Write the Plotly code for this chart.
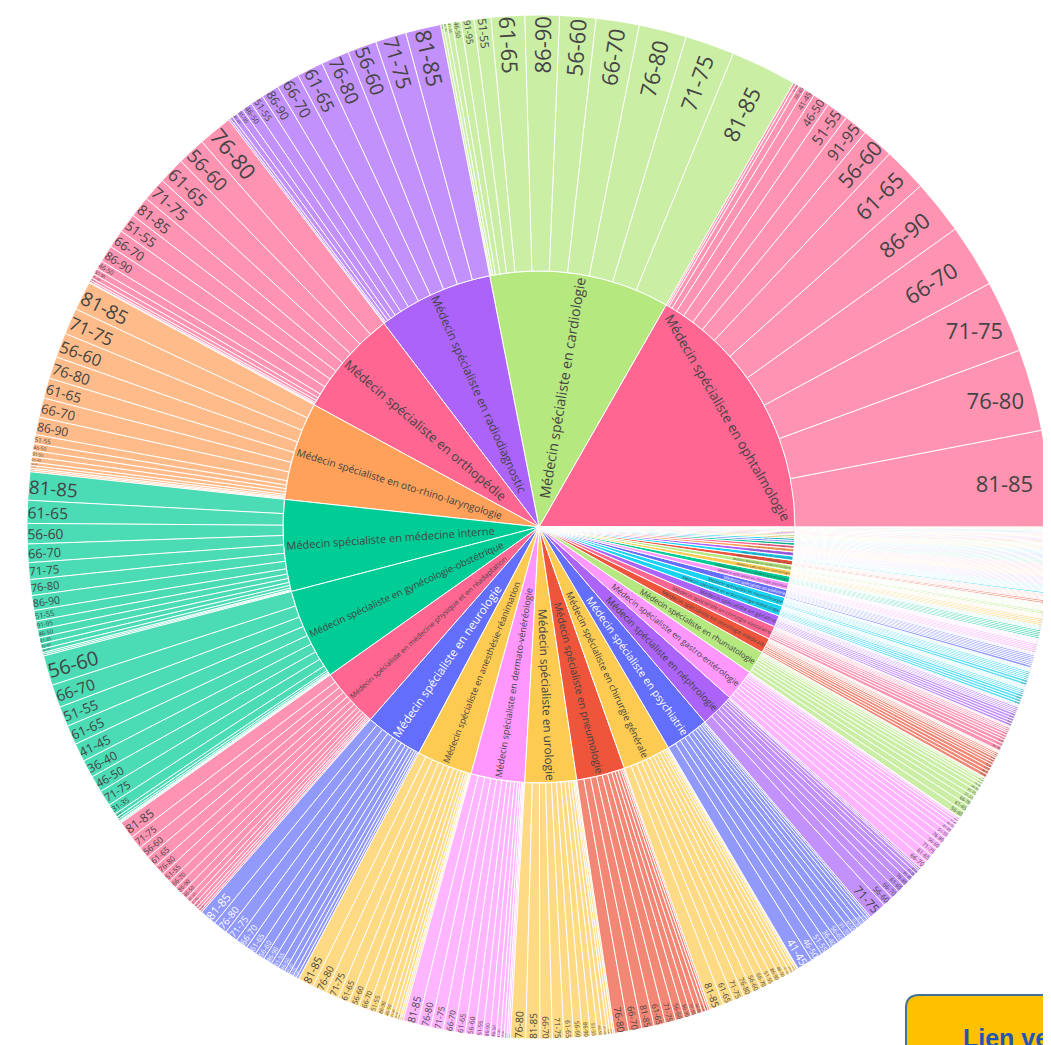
import plotly.graph_objects as go

# ---------------- data ----------------
AGES = ["21-25", "26-30", "31-35", "36-40", "41-45", "46-50", "51-55", "56-60",
        "61-65", "66-70", "71-75", "76-80", "81-85", "86-90", "91-95", "96-100"]

SPECIALTIES = [
    "Médecin spécialiste en ophtalmologie",
    "Médecin spécialiste en cardiologie",
    "Médecin spécialiste en radiodiagnostic",
    "Médecin spécialiste en orthopédie",
    "Médecin spécialiste en oto-rhino-laryngologie",
    "Médecin spécialiste en médecine interne",
    "Médecin spécialiste en gynécologie-obstétrique",
    "Médecin spécialiste en médecine physique et en réadaptation",
    "Médecin spécialiste en neurologie",
    "Médecin spécialiste en anesthésie-réanimation",
    "Médecin spécialiste en dermato-vénéréologie",
    "Médecin spécialiste en urologie",
    "Médecin spécialiste en pneumologie",
    "Médecin spécialiste en chirurgie générale",
    "Médecin spécialiste en psychiatrie",
    "Médecin spécialiste en néphrologie",
    "Médecin spécialiste en gastro-entérologie",
    "Médecin spécialiste en rhumatologie",
    "Médecin spécialiste en oncologie médicale",
    "Médecin spécialiste en chirurgie vasculaire",
    "Médecin spécialiste en gériatrie",
    "Médecin spécialiste en endocrinologie-diabétologie",
    "Médecin spécialiste en neurochirurgie",
    "Médecin spécialiste en pédiatrie",
    "Médecin spécialiste en chirurgie plastique",
    "Médecin spécialiste en radiothérapie-oncologie",
    "Médecin spécialiste en stomatologie",
    "Médecin spécialiste en médecine nucléaire",
    "Médecin spécialiste en hématologie clinique",
    "Médecin spécialiste en chirurgie thoracique",
    "Médecin spécialiste en neuropsychiatrie",
    "Médecin spécialiste en chirurgie maxillo-faciale",
    "Médecin spécialiste en biologie clinique",
    "Médecin spécialiste en chirurgie cardiaque",
    "Médecin spécialiste en médecine d'urgence",
    "Médecin spécialiste en anatomie pathologique",
    "Médecin spécialiste en psychiatrie infanto-juvénile",
    "Médecin spécialiste en soins intensifs",
    "Médecin spécialiste en chirurgie pédiatrique",
    "Médecin spécialiste en médecine du travail",
    "Médecin spécialiste en allergologie",
    "Médecin spécialiste en médecine aiguë",
    "Médecin spécialiste en génétique clinique",
    "Médecin spécialiste en médecine légale",
    "Médecin spécialiste en médecine tropicale",
    "Médecin spécialiste en santé publique",
]

COLORS = [
    "#FF6692", "#B6E880", "#AB63FA", "#FF6692", "#FFA15A", "#00CC96", "#00CC96",
    "#FF6692", "#636EFA", "#FECB52", "#FF97FF", "#FECB52", "#EF553B", "#FECB52",
    "#636EFA", "#AB63FA", "#FF97FF", "#B6E880",
    "#EF553B", "#FF6692", "#AB63FA", "#19D3F3", "#19D3F3", "#636EFA", "#FF97FF",
    "#00CC96", "#FECB52", "#B6E880", "#EF553B", "#19D3F3", "#AB63FA", "#FFA15A",
    "#FF6692", "#00CC96", "#636EFA", "#19D3F3", "#FECB52", "#B6E880", "#EF553B",
    "#AB63FA", "#FFA15A", "#FF97FF", "#00CC96", "#636EFA", "#FECB52", "#B6E880",
]

# counts per age group (same order as AGES)
COUNTS = [
    [0, 0, 3, 8, 12, 19, 25, 36, 50, 72, 82, 93, 109, 62, 27, 4],
    [0, 0, 0, 3, 6, 10, 19, 41, 38, 49, 56, 54, 75, 39, 15, 4],
    [0, 0, 0, 3, 6, 12, 15, 33, 30, 26, 35, 32, 40, 20, 8, 2],
    [0, 0, 1, 3, 5, 10, 22, 32, 30, 21, 27, 39, 24, 19, 7, 2],
    [0, 2, 3, 4, 6, 8, 10, 28, 23, 22, 30, 25, 33, 20, 7, 2],
    [0, 2, 2, 6, 7, 9, 12, 23, 26, 21, 19, 18, 32, 17, 10, 4],
    [1, 3, 12, 20, 21, 19, 23, 34, 22, 26, 18, 4, 2, 1, 1, 0],
    [0, 2, 3, 4, 6, 8, 11, 14, 13, 10, 15, 12, 20, 9, 5, 3],
    [0, 0, 3, 4, 6, 8, 9, 11, 12, 14, 15, 16, 19, 10, 5, 0],
    [0, 2, 2, 4, 5, 7, 10, 12, 13, 11, 15, 16, 18, 8, 3, 0],
    [0, 2, 2, 4, 5, 7, 9, 11, 12, 13, 14, 15, 17, 8, 3, 0],
    [0, 0, 2, 3, 5, 6, 8, 10, 11, 14, 13, 17, 16, 9, 3, 0],
    [0, 0, 0, 2, 4, 6, 7, 10, 13, 15, 12, 16, 14, 8, 3, 0],
    [0, 1, 2, 4, 5, 7, 8, 10, 13, 9, 12, 11, 16, 8, 3, 0],
    [2, 6, 9, 11, 18, 13, 12, 10, 7, 5, 4, 3, 0, 0, 0, 0],
    [0, 0, 0, 0, 2, 4, 5, 12, 9, 10, 20, 8, 6, 2, 0, 0],
    [0, 0, 1, 2, 4, 5, 7, 8, 9, 10, 9, 8, 6, 3, 0, 0],
    [0, 0, 0, 2, 3, 5, 6, 8, 8, 7, 6, 4, 3, 1, 0, 0],
    [0, 0, 1, 1, 2, 2, 3, 3, 4, 4, 4, 4, 3, 2, 1, 0],
    [0, 0, 0, 1, 1, 2, 2, 3, 3, 3, 4, 4, 5, 2, 0, 0],
    [0, 0, 1, 1, 2, 2, 3, 3, 3, 3, 3, 2, 2, 1, 0, 0],
    [0, 1, 1, 2, 2, 3, 3, 3, 3, 2, 1, 1, 1, 0, 0, 0],
    [0, 0, 1, 1, 2, 2, 2, 3, 3, 2, 2, 1, 1, 0, 0, 0],
    [0, 0, 0, 1, 1, 2, 2, 2, 3, 2, 2, 2, 1, 0, 0, 0],
    [0, 0, 1, 1, 1, 2, 2, 2, 2, 2, 1, 1, 1, 0, 0, 0],
    [0, 0, 0, 1, 1, 1, 2, 2, 2, 2, 2, 1, 1, 0, 0, 0],
    [0, 0, 0, 0, 1, 1, 2, 2, 2, 2, 1, 1, 1, 0, 0, 0],
    [0, 0, 0, 1, 1, 1, 1, 2, 2, 1, 1, 1, 1, 0, 0, 0],
    [0, 0, 0, 0, 1, 1, 1, 2, 2, 1, 1, 1, 1, 0, 0, 0],
    [0, 0, 0, 0, 1, 1, 1, 1, 2, 1, 1, 1, 1, 0, 0, 0],
    [0, 0, 0, 0, 1, 1, 1, 1, 1, 1, 1, 1, 1, 0, 0, 0],
    [0, 0, 0, 0, 0, 1, 1, 1, 1, 1, 1, 1, 1, 0, 0, 0],
    [0, 0, 0, 0, 0, 1, 1, 1, 1, 1, 1, 1, 0, 0, 0, 0],
    [0, 0, 0, 0, 0, 0, 1, 1, 1, 1, 1, 1, 0, 0, 0, 0],
    [0, 0, 0, 0, 0, 0, 1, 1, 1, 1, 1, 0, 0, 0, 0, 0],
    [0, 0, 0, 0, 0, 1, 1, 1, 1, 1, 0, 0, 0, 0, 0, 0],
    [0, 0, 0, 0, 0, 0, 1, 1, 1, 1, 0, 0, 0, 0, 0, 0],
    [0, 0, 0, 0, 0, 0, 0, 1, 1, 1, 1, 0, 0, 0, 0, 0],
    [0, 0, 0, 0, 0, 0, 0, 1, 1, 1, 0, 0, 0, 0, 0, 0],
    [0, 0, 0, 0, 0, 0, 1, 1, 1, 0, 0, 0, 0, 0, 0, 0],
    [0, 0, 0, 0, 0, 0, 0, 0, 1, 1, 1, 0, 0, 0, 0, 0],
    [0, 0, 0, 0, 0, 0, 0, 1, 1, 0, 0, 0, 0, 0, 0, 0],
    [0, 0, 0, 0, 0, 0, 0, 0, 1, 1, 0, 0, 0, 0, 0, 0],
    [0, 0, 0, 0, 0, 0, 0, 1, 0, 1, 0, 0, 0, 0, 0, 0],
    [0, 0, 0, 0, 0, 0, 0, 0, 1, 0, 0, 0, 0, 0, 0, 0],
    [0, 0, 0, 0, 0, 0, 0, 0, 0, 1, 0, 0, 0, 0, 0, 0],
]

BUTTON_TEXT = "<b>Lien vers le site</b>"

# ---------------- build hierarchy ----------------
ids, labels, parents, values, colors = [], [], [], [], []
for spec, col, row in zip(SPECIALTIES, COLORS, COUNTS):
    ids.append(spec)
    labels.append(spec)
    parents.append("")
    values.append(0)
    colors.append(col)
    for age, v in zip(AGES, row):
        if v > 0:
            ids.append(spec + " | " + age)
            labels.append(age)
            parents.append(spec)
            values.append(v)
            colors.append(col)

fig = go.Figure(go.Sunburst(
    ids=ids, labels=labels, parents=parents, values=values,
    marker=dict(colors=colors, line=dict(color="white", width=1)),
    textfont=dict(size=22),
    insidetextorientation="auto",
    sort=True,
    rotation=0,
    textinfo="label",
))

W, H = 1043, 1037
L, T, PW, PH = 19, 7, 1024, 1024


def px_x(X):
    return (X - 8 - L) / PW


def px_y(Y):
    return 1 - (Y - 8 - T) / PH


# yellow link button (partially outside the view, bottom-right)
x0, x1 = px_x(906), px_x(1100)
yt, yb = px_y(995), px_y(1090)
rr = 13 / PW
path = (f"M {x0},{yb} L {x0},{yt - rr} Q {x0},{yt} {x0 + rr},{yt} "
        f"L {x1},{yt} L {x1},{yb} Z")

fig.update_layout(
    width=W, height=H,
    margin=dict(l=L, r=W - L - PW, t=T, b=H - T - PH),
    paper_bgcolor="white",
    font=dict(family="Open Sans, verdana, arial, sans-serif"),
    shapes=[dict(type="path", xref="paper", yref="paper", path=path,
                 fillcolor="#FFC000", line=dict(color="#41719C", width=2),
                 layer="above")],
    annotations=[dict(xref="paper", yref="paper", x=px_x(961), y=px_y(1022),
                      xanchor="left", yanchor="top", showarrow=False,
                      text=BUTTON_TEXT,
                      font=dict(family="Liberation Sans, Arial", size=25,
                                color="#1F56B5"))],
)

fig.write_html("out.html")
